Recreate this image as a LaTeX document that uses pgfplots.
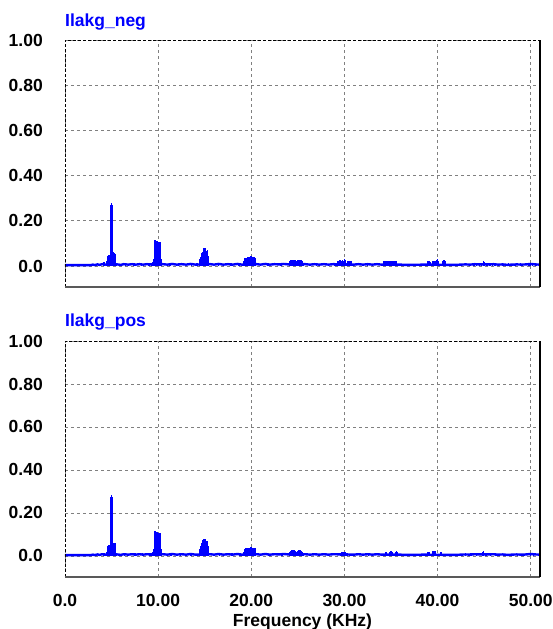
\documentclass[border=0pt]{standalone}
\usepackage{fontspec}
\setmainfont{Liberation Sans}
\usepackage{pgfplots}
\pgfplotsset{compat=1.18}

\newcommand{\lblfont}{\fontsize{17.5}{20}\selectfont\bfseries}

\pgfplotsset{
  psim/.style={
    scale only axis, width=475pt,
    xmin=0, xmax=51, ymax=1.0,
    axis line style={draw=none},
    xtick={0,10,20,30,40,50},
    ytick={0,0.2,0.4,0.6,0.8,1.0},
    yticklabels={0.0,0.20,0.40,0.60,0.80,1.00},
    major tick length=0pt,
    grid=major,
    grid style={black!50, dash pattern=on 3pt off 3pt, line width=0.8pt},
    tick label style={font=\lblfont, inner sep=0pt},
    yticklabel style={xshift=-22pt},
    xticklabel style={yshift=-17pt},
    clip mode=individual,
  },
}

% baseline of the spectra
\pgfplotstableread{
x y
0 0.004
2.8 0.004
3.0 0.006
3.2 0.004
3.5 0.007
3.7 0.005
4.0 0.008
4.4 0.006
5.6 0.007
6.0 0.005
6.3 0.008
6.8 0.006
7.2 0.008
7.6 0.006
8.0 0.008
8.4 0.006
8.8 0.008
9.2 0.007
10.5 0.008
11.0 0.006
11.5 0.009
12.0 0.006
12.5 0.008
13.0 0.006
13.5 0.009
14.0 0.006
15.6 0.008
16.0 0.006
16.5 0.009
17.0 0.006
17.5 0.008
18.0 0.006
18.5 0.009
19.0 0.006
20.6 0.008
21.0 0.006
21.5 0.009
22.0 0.006
22.5 0.008
23.0 0.007
23.5 0.009
24.0 0.007
25.8 0.008
26.3 0.006
26.8 0.008
27.3 0.006
27.8 0.008
28.3 0.006
28.8 0.008
31.0 0.006
31.5 0.008
32.0 0.006
32.5 0.008
33.0 0.006
33.5 0.008
34.0 0.006
36.0 0.006
36.5 0.005
37.5 0.005
38.5 0.006
41.2 0.005
42.0 0.005
42.5 0.006
43.0 0.007
43.5 0.006
44.0 0.008
44.5 0.007
45.5 0.007
46.0 0.008
46.5 0.006
47.0 0.007
47.5 0.005
48.0 0.006
48.5 0.007
49.0 0.006
49.5 0.007
50.0 0.009
50.5 0.007
51.0 0.006
}\baseline

% harmonic content, Ilakg_neg
\pgfplotstableread{
x y
4.15 0.012
4.2 0.018
4.25 0.014
4.5 0.02
4.55 0.035
4.6 0.042
4.65 0.045
4.7 0.046
4.75 0.047
4.8 0.048
4.85 0.05
4.9 0.052
4.95 0.056
4.97 0.27
5.0 0.28
5.03 0.27
5.05 0.06
5.1 0.062
5.15 0.06
5.2 0.06
5.25 0.058
5.3 0.057
5.35 0.055
5.4 0.03
5.45 0.015
6.5 0.012
7.4 0.012
8.2 0.012
9.0 0.013
9.35 0.014
9.4 0.016
9.45 0.018
9.5 0.022
9.55 0.03
9.6 0.112
9.65 0.113
9.7 0.112
9.75 0.111
9.8 0.11
9.85 0.109
9.9 0.108
9.95 0.107
10.0 0.107
10.05 0.106
10.1 0.105
10.15 0.105
10.2 0.104
10.25 0.07
10.3 0.03
10.35 0.015
11.3 0.012
12.2 0.012
13.6 0.012
14.2 0.013
14.45 0.015
14.5 0.03
14.55 0.035
14.6 0.04
14.65 0.05
14.7 0.058
14.75 0.063
14.8 0.063
14.85 0.05
14.9 0.068
14.95 0.078
15.0 0.081
15.05 0.06
15.1 0.035
15.15 0.034
15.2 0.05
15.25 0.068
15.3 0.071
15.35 0.045
15.4 0.02
16.5 0.012
17.8 0.012
18.7 0.012
19.25 0.02
19.3 0.035
19.4 0.036
19.5 0.037
19.6 0.038
19.7 0.039
19.8 0.04
19.9 0.041
20.0 0.042
20.1 0.041
20.2 0.04
20.3 0.038
20.4 0.036
20.45 0.02
21.8 0.012
23.2 0.012
24.1 0.02
24.2 0.027
24.3 0.028
24.4 0.028
24.5 0.027
24.6 0.028
24.7 0.026
24.8 0.02
24.9 0.018
25.0 0.027
25.1 0.028
25.2 0.028
25.3 0.026
25.4 0.027
25.5 0.02
25.6 0.015
27.0 0.011
29.0 0.015
29.1 0.012
29.3 0.02
29.4 0.018
29.5 0.025
29.6 0.022
29.7 0.02
29.8 0.025
29.9 0.02
30.0 0.03
30.1 0.028
30.2 0.015
30.4 0.022
30.5 0.02
30.7 0.02
32.5 0.011
34.2 0.022
34.3 0.024
34.4 0.024
34.5 0.022
34.6 0.02
34.8 0.022
34.9 0.024
35.0 0.02
35.2 0.022
35.3 0.024
35.4 0.024
35.5 0.023
35.6 0.02
39.0 0.02
39.1 0.02
39.2 0.018
39.5 0.022
39.6 0.024
39.7 0.022
39.9 0.028
40.0 0.03
40.1 0.02
40.6 0.022
40.7 0.025
40.8 0.022
43.9 0.012
44.2 0.014
44.5 0.015
44.7 0.012
44.95 0.022
45.0 0.018
45.3 0.014
45.6 0.015
45.9 0.012
46.2 0.012
47.0 0.01
47.6 0.011
48.3 0.01
48.9 0.012
49.8 0.012
50.0 0.014
50.2 0.012
50.6 0.01
}\negdata

% harmonic content, Ilakg_pos
\pgfplotstableread{
x y
4.2 0.012
4.25 0.014
4.5 0.018
4.55 0.04
4.6 0.048
4.65 0.05
4.7 0.05
4.75 0.051
4.8 0.051
4.85 0.052
4.9 0.053
4.95 0.056
4.97 0.275
5.0 0.285
5.03 0.275
5.05 0.06
5.1 0.062
5.15 0.062
5.2 0.061
5.25 0.06
5.3 0.06
5.35 0.058
5.4 0.03
5.45 0.015
6.4 0.012
7.5 0.012
8.3 0.012
9.1 0.012
9.35 0.014
9.4 0.016
9.45 0.018
9.5 0.022
9.55 0.03
9.6 0.113
9.65 0.114
9.7 0.113
9.75 0.112
9.8 0.111
9.85 0.11
9.9 0.109
9.95 0.108
10.0 0.108
10.05 0.107
10.1 0.106
10.15 0.106
10.2 0.105
10.25 0.07
10.3 0.03
10.35 0.015
11.4 0.012
12.4 0.012
13.5 0.012
14.45 0.015
14.5 0.03
14.55 0.038
14.6 0.045
14.65 0.052
14.7 0.062
14.75 0.07
14.8 0.074
14.85 0.06
14.9 0.07
14.95 0.078
15.0 0.079
15.05 0.06
15.1 0.038
15.15 0.036
15.2 0.052
15.25 0.068
15.3 0.07
15.35 0.045
15.4 0.02
16.6 0.012
17.9 0.012
18.8 0.012
19.25 0.02
19.3 0.034
19.4 0.035
19.5 0.036
19.6 0.037
19.7 0.038
19.8 0.039
19.9 0.04
20.0 0.04
20.1 0.039
20.2 0.038
20.3 0.037
20.4 0.035
20.45 0.02
21.9 0.011
23.3 0.011
24.1 0.018
24.2 0.024
24.3 0.026
24.4 0.026
24.5 0.025
24.6 0.026
24.7 0.024
24.8 0.02
24.9 0.019
25.0 0.025
25.1 0.026
25.2 0.026
25.3 0.025
25.4 0.025
25.5 0.02
25.6 0.014
27.2 0.011
29.6 0.014
29.7 0.016
29.8 0.02
29.9 0.016
30.0 0.02
30.1 0.018
30.3 0.014
32.6 0.01
34.4 0.02
34.5 0.018
34.9 0.02
35.0 0.022
35.1 0.018
35.5 0.02
35.6 0.021
35.7 0.018
39.0 0.018
39.1 0.02
39.5 0.022
39.6 0.024
39.7 0.022
40.3 0.018
40.4 0.02
42.4 0.01
43.0 0.011
43.6 0.012
44.2 0.011
44.85 0.02
44.95 0.022
45.2 0.012
45.7 0.011
46.3 0.01
47.1 0.01
47.9 0.01
48.6 0.01
49.3 0.01
50.0 0.012
50.3 0.011
}\posdata

\begin{document}
\begin{tikzpicture}
\useasboundingbox (0,0) rectangle (553pt,629pt);

% upper panel
\begin{axis}[psim, at={(65pt,342pt)}, anchor=south west,
  height=247pt, ymin=-0.093, xticklabels={}]
  \addplot[blue, line width=2.4pt] table {\baseline};
  \addplot[ycomb, blue, line width=1.6pt] table {\negdata};
  \draw[black, dash pattern=on 3pt off 2pt, line width=0.8pt]
    (rel axis cs:0,0) -- (rel axis cs:0,1) -- (rel axis cs:1,1);
  \draw[black!65, line width=2pt] (rel axis cs:0,0) -- (rel axis cs:1,0);
  \draw[black, line width=1.5pt] (rel axis cs:1,0) -- (rel axis cs:1,1);
  \node[anchor=base west, inner sep=0pt, text=blue, font=\lblfont]
    at (rel axis cs:0,1) [yshift=13pt] {Ilakg\_neg};
\end{axis}

% lower panel
\begin{axis}[psim, at={(65pt,52pt)}, anchor=south west,
  height=236pt, ymin=-0.098,
  xticklabels={0.0,10.00,20.00,30.00,40.00,50.00}]
  \addplot[blue, line width=2.4pt] table {\baseline};
  \addplot[ycomb, blue, line width=1.6pt] table {\posdata};
  \draw[black, dash pattern=on 3pt off 2pt, line width=0.8pt]
    (rel axis cs:0,0) -- (rel axis cs:0,1) -- (rel axis cs:1,1);
  \draw[black!65, line width=2pt] (rel axis cs:0,0) -- (rel axis cs:1,0);
  \draw[black, line width=1.5pt] (rel axis cs:1,0) -- (rel axis cs:1,1);
  \node[anchor=base west, inner sep=0pt, text=blue, font=\lblfont]
    at (rel axis cs:0,1) [yshift=14pt] {Ilakg\_pos};
  \node[anchor=base, inner sep=0pt, font=\lblfont]
    at (rel axis cs:0.5,0) [yshift=-49pt] {Frequency (KHz)};
\end{axis}
\end{tikzpicture}
\end{document}
